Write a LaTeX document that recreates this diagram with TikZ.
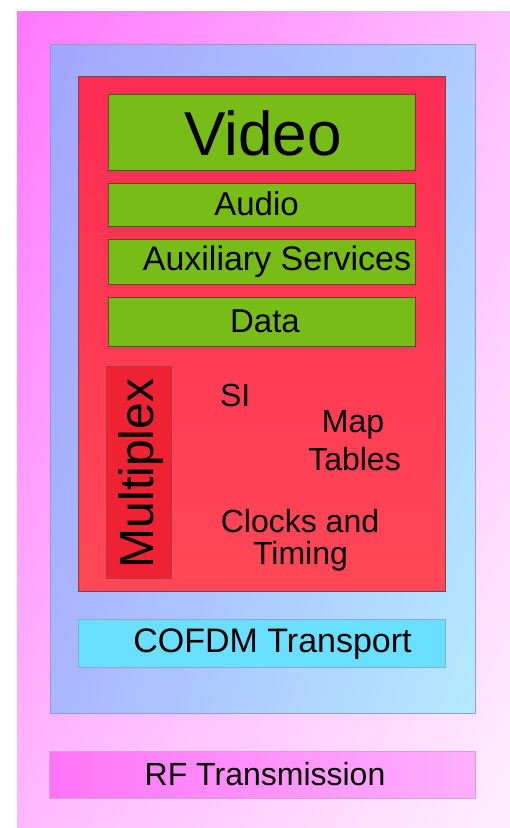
\documentclass[tikz,border=0pt]{standalone}
\usepackage{fontspec}
\setmainfont{Liberation Sans}
\usetikzlibrary{shadings}
\definecolor{pinkUL}{HTML}{FF78FF}
\definecolor{pinkUR}{HTML}{FFBEFF}
\definecolor{pinkLL}{HTML}{FFB8FD}
\definecolor{pinkLR}{HTML}{FFEEFF}
\definecolor{blueUL}{HTML}{A2A6FF}
\definecolor{blueUR}{HTML}{AECCFF}
\definecolor{blueLL}{HTML}{AAB6FF}
\definecolor{blueLR}{HTML}{B4EAFF}
\definecolor{blueEdge}{HTML}{9A9AC0}
\definecolor{redTop}{HTML}{FF2C54}
\definecolor{redBot}{HTML}{FF4855}
\definecolor{redEdge}{HTML}{6A4A4A}
\definecolor{greenFill}{HTML}{78BC18}
\definecolor{greenEdge}{HTML}{5A4A2A}
\definecolor{muxFill}{HTML}{EE2233}
\definecolor{muxEdge}{HTML}{B03A44}
\definecolor{cyanFill}{HTML}{6ADFFF}
\definecolor{cyanEdge}{HTML}{8AAAC8}
\definecolor{rfL}{HTML}{FF74F6}
\definecolor{rfR}{HTML}{FFAEFF}
\definecolor{rfEdge}{HTML}{CCA4CC}
\begin{document}
\begin{tikzpicture}[x=1pt,y=-1pt,
  layer/.style={rectangle, inner sep=0pt, outer sep=0pt, line width=0.8pt},
  greenbox/.style={layer, draw=greenEdge, fill=greenFill, minimum width=307pt},
  lbl/.style={inner sep=0pt, outer sep=0pt, anchor=base, text=black},
  f62/.style={font=\fontsize{62}{70}\selectfont},
  f34/.style={font=\fontsize{34}{40}\selectfont},
  f33/.style={font=\fontsize{33}{40}\selectfont},
  f32/.style={font=\fontsize{32}{38}\selectfont},
  f48/.style={font=\fontsize{48}{56}\selectfont}]
\useasboundingbox (0,0) rectangle (510,828);
% outer pink
\node[layer, minimum width=493pt, minimum height=817pt,
  upper left=pinkUL, upper right=pinkUR, lower left=pinkLL, lower right=pinkLR]
  (pink) at (263.5,419.5) {};
% blue layer
\node[layer, draw=blueEdge, minimum width=425pt, minimum height=669pt,
  upper left=blueUL, upper right=blueUR, lower left=blueLL, lower right=blueLR]
  (blue) at (262.5,378.5) {};
% red layer
\node[layer, draw=redEdge, minimum width=367pt, minimum height=515pt,
  top color=redTop, bottom color=redBot]
  (red) at (261.5,333.5) {};
% green boxes
\node[greenbox, minimum height=76pt] (video) at (261.5,132) {};
\node[greenbox, minimum height=43pt] (audio) at (261.5,204.5) {};
\node[greenbox, minimum height=45pt] (aux) at (261.5,261.5) {};
\node[greenbox, minimum height=49pt] (data) at (261.5,321.5) {};
% multiplex
\node[layer, draw=muxEdge, fill=muxFill, minimum width=65pt, minimum height=212pt]
  (mux) at (138.5,472) {};
% cofdm
\node[layer, draw=cyanEdge, fill=cyanFill, minimum width=367pt, minimum height=48pt]
  (cofdm) at (261.5,643) {};
% rf
\node[layer, draw=rfEdge, left color=rfL, right color=rfR, minimum width=426pt, minimum height=47pt]
  (rf) at (262,774.5) {};
% labels
\node[lbl, f62] (videoT) at (263,155) {Video};
\node[lbl, f33] (audioT) at (256.5,215) {Audio};
\node[lbl, f34] (auxT) at (277,270) {Auxiliary Services};
\node[lbl, f33] (dataT) at (265,332) {Data};
\node[lbl, f48, rotate=90] (muxT) at (153,473.5) {Multiplex};
\node[lbl, f32, anchor=base west] (siT) at (220,406) {SI};
\node[lbl, f32] (mapT) at (353,432) {Map};
\node[lbl, f32] (tablesT) at (354.5,470) {Tables};
\node[lbl, f32] (clocksT) at (300,532) {Clocks and};
\node[lbl, f32] (timingT) at (300.5,564) {Timing};
\node[lbl, f34] (cofdmT) at (272.5,652) {COFDM Transport};
\node[lbl, f32] (rfT) at (265,785) {RF Transmission};
\end{tikzpicture}
\end{document}
